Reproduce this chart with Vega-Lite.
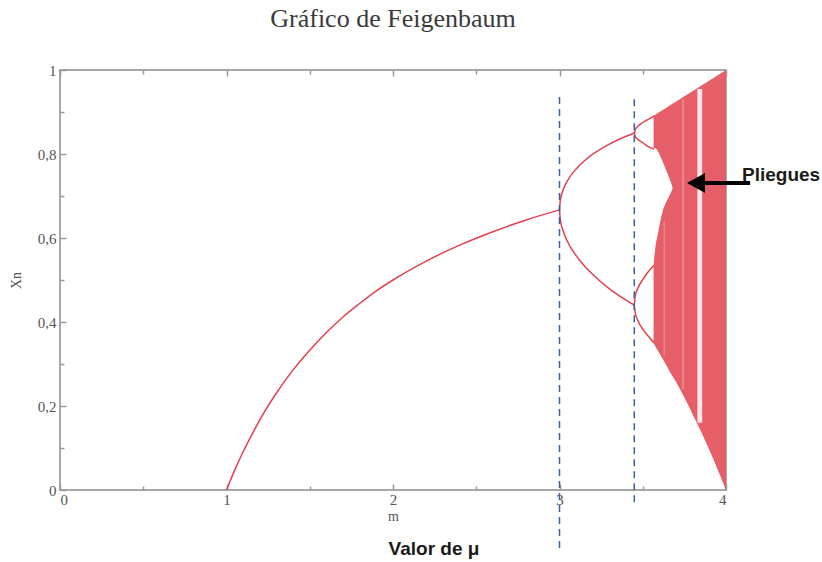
{
  "$schema": "https://vega.github.io/schema/vega-lite/v6.json",
  "width": 666,
  "height": 420,
  "autosize": {"type": "none"},
  "padding": {"left": 60, "top": 70, "right": 96, "bottom": 72},
  "background": "white",
  "title": {"text": "Gráfico de Feigenbaum", "font": "Liberation Serif", "fontSize": 26, "fontWeight": "normal", "color": "#3a3a3a", "offset": 31, "anchor": "middle"},
  "config": {
    "view": {"stroke": "#a8a8a8", "strokeWidth": 2},
    "axis": {"grid": false, "domain": false, "tickColor": "#999999", "tickWidth": 1.5, "labelFont": "Liberation Serif", "labelFontSize": 15, "labelColor": "#555555", "titleFont": "Liberation Serif", "titleFontWeight": "normal", "titleColor": "#555555"}
  },
  "datasets": {
    "lines": [
      {"branch": "p1", "r": 1.0, "x": 0.0},
      {"branch": "p1", "r": 1.05, "x": 0.048},
      {"branch": "p1", "r": 1.1, "x": 0.091},
      {"branch": "p1", "r": 1.15, "x": 0.13},
      {"branch": "p1", "r": 1.2, "x": 0.167},
      {"branch": "p1", "r": 1.3, "x": 0.231},
      {"branch": "p1", "r": 1.4, "x": 0.286},
      {"branch": "p1", "r": 1.5, "x": 0.333},
      {"branch": "p1", "r": 1.6, "x": 0.375},
      {"branch": "p1", "r": 1.7, "x": 0.412},
      {"branch": "p1", "r": 1.8, "x": 0.444},
      {"branch": "p1", "r": 1.9, "x": 0.474},
      {"branch": "p1", "r": 2.0, "x": 0.5},
      {"branch": "p1", "r": 2.2, "x": 0.545},
      {"branch": "p1", "r": 2.4, "x": 0.583},
      {"branch": "p1", "r": 2.6, "x": 0.615},
      {"branch": "p1", "r": 2.8, "x": 0.643},
      {"branch": "p1", "r": 3.0, "x": 0.667},
      {"branch": "p2a", "r": 3.0, "x": 0.667},
      {"branch": "p2a", "r": 3.005, "x": 0.69},
      {"branch": "p2a", "r": 3.02, "x": 0.7125},
      {"branch": "p2a", "r": 3.05, "x": 0.738},
      {"branch": "p2a", "r": 3.1, "x": 0.7645},
      {"branch": "p2a", "r": 3.15, "x": 0.784},
      {"branch": "p2a", "r": 3.2, "x": 0.7995},
      {"branch": "p2a", "r": 3.3, "x": 0.8236},
      {"branch": "p2a", "r": 3.4, "x": 0.8422},
      {"branch": "p2a", "r": 3.449, "x": 0.85},
      {"branch": "p2b", "r": 3.0, "x": 0.667},
      {"branch": "p2b", "r": 3.005, "x": 0.643},
      {"branch": "p2b", "r": 3.02, "x": 0.619},
      {"branch": "p2b", "r": 3.05, "x": 0.59},
      {"branch": "p2b", "r": 3.1, "x": 0.558},
      {"branch": "p2b", "r": 3.15, "x": 0.5335},
      {"branch": "p2b", "r": 3.2, "x": 0.513},
      {"branch": "p2b", "r": 3.3, "x": 0.479},
      {"branch": "p2b", "r": 3.4, "x": 0.452},
      {"branch": "p2b", "r": 3.449, "x": 0.44},
      {"branch": "p4a", "r": 3.449, "x": 0.85},
      {"branch": "p4a", "r": 3.455, "x": 0.858},
      {"branch": "p4a", "r": 3.47, "x": 0.866},
      {"branch": "p4a", "r": 3.5, "x": 0.875},
      {"branch": "p4a", "r": 3.53, "x": 0.882},
      {"branch": "p4a", "r": 3.568, "x": 0.89},
      {"branch": "p4b", "r": 3.449, "x": 0.85},
      {"branch": "p4b", "r": 3.455, "x": 0.842},
      {"branch": "p4b", "r": 3.47, "x": 0.835},
      {"branch": "p4b", "r": 3.5, "x": 0.827},
      {"branch": "p4b", "r": 3.53, "x": 0.818},
      {"branch": "p4b", "r": 3.568, "x": 0.812},
      {"branch": "p4c", "r": 3.449, "x": 0.44},
      {"branch": "p4c", "r": 3.455, "x": 0.462},
      {"branch": "p4c", "r": 3.47, "x": 0.48},
      {"branch": "p4c", "r": 3.5, "x": 0.501},
      {"branch": "p4c", "r": 3.53, "x": 0.518},
      {"branch": "p4c", "r": 3.568, "x": 0.535},
      {"branch": "p4d", "r": 3.449, "x": 0.44},
      {"branch": "p4d", "r": 3.455, "x": 0.422},
      {"branch": "p4d", "r": 3.47, "x": 0.404},
      {"branch": "p4d", "r": 3.5, "x": 0.383},
      {"branch": "p4d", "r": 3.53, "x": 0.368},
      {"branch": "p4d", "r": 3.568, "x": 0.35}
    ],
    "bands": [
      {"band": "upper", "r": 3.565, "lo": 0.815, "hi": 0.891},
      {"band": "upper", "r": 3.586, "lo": 0.81, "hi": 0.8965},
      {"band": "upper", "r": 3.605, "lo": 0.795, "hi": 0.901},
      {"band": "upper", "r": 3.622, "lo": 0.779, "hi": 0.9055},
      {"band": "upper", "r": 3.645, "lo": 0.757, "hi": 0.911},
      {"band": "upper", "r": 3.664, "lo": 0.738, "hi": 0.916},
      {"band": "upper", "r": 3.684, "lo": 0.715, "hi": 0.921},
      {"band": "lower", "r": 3.565, "lo": 0.35, "hi": 0.535},
      {"band": "lower", "r": 3.575, "lo": 0.342, "hi": 0.575},
      {"band": "lower", "r": 3.592, "lo": 0.331, "hi": 0.612},
      {"band": "lower", "r": 3.622, "lo": 0.311, "hi": 0.667},
      {"band": "lower", "r": 3.646, "lo": 0.294, "hi": 0.69},
      {"band": "lower", "r": 3.665, "lo": 0.28, "hi": 0.705},
      {"band": "lower", "r": 3.684, "lo": 0.268, "hi": 0.722},
      {"band": "main", "r": 3.68, "lo": 0.271, "hi": 0.92},
      {"band": "main", "r": 3.7, "lo": 0.257, "hi": 0.925},
      {"band": "main", "r": 3.75, "lo": 0.22, "hi": 0.9375},
      {"band": "main", "r": 3.8, "lo": 0.18, "hi": 0.95},
      {"band": "main", "r": 3.85, "lo": 0.139, "hi": 0.9625},
      {"band": "main", "r": 3.9, "lo": 0.095, "hi": 0.975},
      {"band": "main", "r": 3.95, "lo": 0.049, "hi": 0.9875},
      {"band": "main", "r": 4.0, "lo": 0.0, "hi": 1.0}
    ],
    "windowMain": [
      {"r1": 3.828, "r2": 3.857, "lo": 0.16, "hi": 0.955}
    ],
    "windowFaint": [
      {"r1": 3.738, "r2": 3.746, "lo": 0.24, "hi": 0.93},
      {"r1": 3.626, "r2": 3.632, "lo": 0.32, "hi": 0.64}
    ],
    "dashes": [
      {"r": 3.0, "lo": -0.138, "hi": 0.936},
      {"r": 3.449, "lo": -0.029, "hi": 0.936}
    ],
    "arrow": [
      {"r": 3.81, "x": 0.731},
      {"r": 4.145, "x": 0.731}
    ],
    "arrowHead": [
      {"r": 3.82, "x": 0.731}
    ],
    "note": [
      {"label": "Pliegues", "r": 4.096, "x": 0.75}
    ],
    "xlabel": [
      {"label": "Valor de μ", "r": 2.246, "x": -0.14}
    ]
  },
  "resolve": {"axis": {"x": "independent", "y": "independent"}},
  "layer": [
    {
      "data": {"name": "bands"},
      "mark": {"type": "area", "color": "#e65e67", "opacity": 1, "interpolate": "monotone"},
      "encoding": {
        "x": {"field": "r", "type": "quantitative", "scale": {"domain": [0, 4], "nice": false, "zero": false},
          "axis": {"orient": "bottom", "values": [0, 0.5, 1, 1.5, 2, 2.5, 3, 3.5, 4], "labelExpr": "datum.value % 1 === 0 ? format(datum.value, 'd') : ''", "tickSize": {"condition": {"test": "datum.value % 1 === 0", "value": -6}, "value": -4}, "labelPadding": 8, "title": "m", "titleFontSize": 14, "titlePadding": 2}},
        "y": {"field": "lo", "type": "quantitative", "scale": {"domain": [0, 1], "nice": false, "zero": false},
          "axis": {"orient": "left", "values": [0, 0.1, 0.2, 0.3, 0.4, 0.5, 0.6, 0.7, 0.8, 0.9, 1], "labelExpr": "abs(datum.value*5 - round(datum.value*5)) < 0.001 ? replace(format(datum.value, '.1~f'), '.', ',') : ''", "tickSize": {"condition": {"test": "abs(datum.value*5 - round(datum.value*5)) < 0.001", "value": -6}, "value": -4}, "labelPadding": 10, "title": "Xn", "titleFontSize": 14, "titlePadding": 14}},
        "y2": {"field": "hi"},
        "detail": {"field": "band"}
      }
    },
    {
      "data": {"name": "windowMain"},
      "mark": {"type": "rect", "color": "white", "opacity": 0.85},
      "encoding": {
        "x": {"field": "r1", "type": "quantitative", "axis": null},
        "x2": {"field": "r2"},
        "y": {"field": "lo", "type": "quantitative", "axis": null},
        "y2": {"field": "hi"}
      }
    },
    {
      "data": {"name": "windowFaint"},
      "mark": {"type": "rect", "color": "white", "opacity": 0.35},
      "encoding": {
        "x": {"field": "r1", "type": "quantitative", "axis": null},
        "x2": {"field": "r2"},
        "y": {"field": "lo", "type": "quantitative", "axis": null},
        "y2": {"field": "hi"}
      }
    },
    {
      "data": {"name": "lines"},
      "mark": {"type": "line", "color": "#e3414d", "strokeWidth": 1.5, "interpolate": "monotone"},
      "encoding": {
        "x": {"field": "r", "type": "quantitative", "axis": null},
        "y": {"field": "x", "type": "quantitative", "axis": null},
        "detail": {"field": "branch"}
      }
    },
    {
      "data": {"name": "dashes"},
      "mark": {"type": "rule", "color": "#3760a8", "strokeWidth": 1.5, "strokeDash": [7, 5]},
      "encoding": {
        "x": {"field": "r", "type": "quantitative",
          "axis": {"orient": "top", "values": [0, 0.5, 1, 1.5, 2, 2.5, 3, 3.5, 4], "labels": false, "title": null, "tickSize": {"condition": {"test": "datum.value % 1 === 0", "value": -6}, "value": -4}}},
        "y": {"field": "lo", "type": "quantitative", "axis": null},
        "y2": {"field": "hi"}
      }
    },
    {
      "data": {"name": "arrow"},
      "mark": {"type": "line", "color": "black", "strokeWidth": 4},
      "encoding": {
        "x": {"field": "r", "type": "quantitative", "axis": null},
        "y": {"field": "x", "type": "quantitative", "axis": null}
      }
    },
    {
      "data": {"name": "arrowHead"},
      "mark": {"type": "point", "shape": "M -0.9 0 L 0.9 -1 L 0.9 1 Z", "size": 400, "filled": true, "color": "black", "opacity": 1},
      "encoding": {
        "x": {"field": "r", "type": "quantitative", "axis": null},
        "y": {"field": "x", "type": "quantitative", "axis": null}
      }
    },
    {
      "data": {"name": "note"},
      "mark": {"type": "text", "font": "Liberation Sans", "fontWeight": "bold", "fontSize": 19, "color": "#1a1a1a", "align": "left", "baseline": "middle"},
      "encoding": {
        "x": {"field": "r", "type": "quantitative", "axis": null},
        "y": {"field": "x", "type": "quantitative", "axis": null},
        "text": {"field": "label"}
      }
    },
    {
      "data": {"name": "xlabel"},
      "mark": {"type": "text", "font": "Liberation Sans", "fontWeight": "bold", "fontSize": 19, "color": "#1a1a1a", "align": "center", "baseline": "middle"},
      "encoding": {
        "x": {"field": "r", "type": "quantitative", "axis": null},
        "y": {"field": "x", "type": "quantitative", "axis": null},
        "text": {"field": "label"}
      }
    }
  ]
}
